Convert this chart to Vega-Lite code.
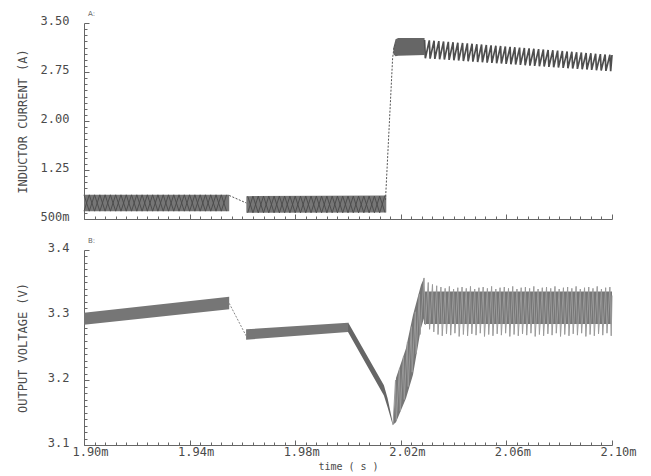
{
  "$schema": "https://vega.github.io/schema/vega-lite/v6.json",
  "background": "white",
  "padding": {"left": 16, "top": 10, "right": 5, "bottom": 2},
  "spacing": 15,
  "config": {
    "view": {"stroke": null},
    "axis": {"domainColor": "#666", "tickColor": "#666", "labelColor": "#4a4a4a", "titleColor": "#4a4a4a", "labelFont": "DejaVu Sans Mono", "titleFont": "DejaVu Sans Mono", "labelFontSize": 12, "titleFontSize": 12, "titleFontWeight": "normal", "grid": false, "labelFlush": false, "labelOverlap": false, "labelBound": false, "domainWidth": 1, "tickWidth": 1},
    "title": {"anchor": "start", "frame": "group", "fontSize": 7, "offset": -3, "dx": 4, "color": "#666", "font": "DejaVu Sans", "fontWeight": "normal"}
  },
  "datasets": {
    "iBand": [
      {"g": "g1", "t": 1.900, "v": 0.87, "v2": 0.62},
      {"g": "g1", "t": 1.955, "v": 0.87, "v2": 0.62},
      {"g": "g2", "t": 1.9615, "v": 0.85, "v2": 0.595},
      {"g": "g2", "t": 2.0145, "v": 0.86, "v2": 0.60},
      {"g": "g3", "t": 2.0172, "v": 3.12, "v2": 3.02},
      {"g": "g3", "t": 2.0180, "v": 3.25, "v2": 2.99},
      {"g": "g3", "t": 2.0190, "v": 3.27, "v2": 3.00},
      {"g": "g3", "t": 2.0290, "v": 3.27, "v2": 3.01}
    ],
    "iRip": [
      {"s": "a1", "t": 1.900, "v": 0.87}, {"s": "a1", "t": 1.902, "v": 0.62}, {"s": "a1", "t": 1.904, "v": 0.87}, {"s": "a1", "t": 1.906, "v": 0.62},
      {"s": "a1", "t": 1.908, "v": 0.87}, {"s": "a1", "t": 1.910, "v": 0.62}, {"s": "a1", "t": 1.912, "v": 0.87}, {"s": "a1", "t": 1.914, "v": 0.62},
      {"s": "a1", "t": 1.916, "v": 0.87}, {"s": "a1", "t": 1.918, "v": 0.62}, {"s": "a1", "t": 1.920, "v": 0.87}, {"s": "a1", "t": 1.922, "v": 0.62},
      {"s": "a1", "t": 1.924, "v": 0.87}, {"s": "a1", "t": 1.926, "v": 0.62}, {"s": "a1", "t": 1.928, "v": 0.87}, {"s": "a1", "t": 1.930, "v": 0.62},
      {"s": "a1", "t": 1.932, "v": 0.87}, {"s": "a1", "t": 1.934, "v": 0.62}, {"s": "a1", "t": 1.936, "v": 0.87}, {"s": "a1", "t": 1.938, "v": 0.62},
      {"s": "a1", "t": 1.940, "v": 0.87}, {"s": "a1", "t": 1.942, "v": 0.62}, {"s": "a1", "t": 1.944, "v": 0.87}, {"s": "a1", "t": 1.946, "v": 0.62},
      {"s": "a1", "t": 1.948, "v": 0.87}, {"s": "a1", "t": 1.950, "v": 0.62}, {"s": "a1", "t": 1.952, "v": 0.87}, {"s": "a1", "t": 1.954, "v": 0.62},
      {"s": "b1", "t": 1.900, "v": 0.62}, {"s": "b1", "t": 1.902, "v": 0.87}, {"s": "b1", "t": 1.904, "v": 0.62}, {"s": "b1", "t": 1.906, "v": 0.87},
      {"s": "b1", "t": 1.908, "v": 0.62}, {"s": "b1", "t": 1.910, "v": 0.87}, {"s": "b1", "t": 1.912, "v": 0.62}, {"s": "b1", "t": 1.914, "v": 0.87},
      {"s": "b1", "t": 1.916, "v": 0.62}, {"s": "b1", "t": 1.918, "v": 0.87}, {"s": "b1", "t": 1.920, "v": 0.62}, {"s": "b1", "t": 1.922, "v": 0.87},
      {"s": "b1", "t": 1.924, "v": 0.62}, {"s": "b1", "t": 1.926, "v": 0.87}, {"s": "b1", "t": 1.928, "v": 0.62}, {"s": "b1", "t": 1.930, "v": 0.87},
      {"s": "b1", "t": 1.932, "v": 0.62}, {"s": "b1", "t": 1.934, "v": 0.87}, {"s": "b1", "t": 1.936, "v": 0.62}, {"s": "b1", "t": 1.938, "v": 0.87},
      {"s": "b1", "t": 1.940, "v": 0.62}, {"s": "b1", "t": 1.942, "v": 0.87}, {"s": "b1", "t": 1.944, "v": 0.62}, {"s": "b1", "t": 1.946, "v": 0.87},
      {"s": "b1", "t": 1.948, "v": 0.62}, {"s": "b1", "t": 1.950, "v": 0.87}, {"s": "b1", "t": 1.952, "v": 0.62}, {"s": "b1", "t": 1.954, "v": 0.87},
      {"s": "a2", "t": 1.962, "v": 0.85}, {"s": "a2", "t": 1.964, "v": 0.595}, {"s": "a2", "t": 1.966, "v": 0.85}, {"s": "a2", "t": 1.968, "v": 0.595},
      {"s": "a2", "t": 1.970, "v": 0.85}, {"s": "a2", "t": 1.972, "v": 0.595}, {"s": "a2", "t": 1.974, "v": 0.85}, {"s": "a2", "t": 1.976, "v": 0.595},
      {"s": "a2", "t": 1.978, "v": 0.85}, {"s": "a2", "t": 1.980, "v": 0.595}, {"s": "a2", "t": 1.982, "v": 0.85}, {"s": "a2", "t": 1.984, "v": 0.595},
      {"s": "a2", "t": 1.986, "v": 0.85}, {"s": "a2", "t": 1.988, "v": 0.595}, {"s": "a2", "t": 1.990, "v": 0.85}, {"s": "a2", "t": 1.992, "v": 0.595},
      {"s": "a2", "t": 1.994, "v": 0.85}, {"s": "a2", "t": 1.996, "v": 0.595}, {"s": "a2", "t": 1.998, "v": 0.85}, {"s": "a2", "t": 2.000, "v": 0.595},
      {"s": "a2", "t": 2.002, "v": 0.85}, {"s": "a2", "t": 2.004, "v": 0.595}, {"s": "a2", "t": 2.006, "v": 0.85}, {"s": "a2", "t": 2.008, "v": 0.595},
      {"s": "a2", "t": 2.010, "v": 0.85}, {"s": "a2", "t": 2.012, "v": 0.595}, {"s": "a2", "t": 2.014, "v": 0.86},
      {"s": "b2", "t": 1.962, "v": 0.595}, {"s": "b2", "t": 1.964, "v": 0.85}, {"s": "b2", "t": 1.966, "v": 0.595}, {"s": "b2", "t": 1.968, "v": 0.85},
      {"s": "b2", "t": 1.970, "v": 0.595}, {"s": "b2", "t": 1.972, "v": 0.85}, {"s": "b2", "t": 1.974, "v": 0.595}, {"s": "b2", "t": 1.976, "v": 0.85},
      {"s": "b2", "t": 1.978, "v": 0.595}, {"s": "b2", "t": 1.980, "v": 0.85}, {"s": "b2", "t": 1.982, "v": 0.595}, {"s": "b2", "t": 1.984, "v": 0.85},
      {"s": "b2", "t": 1.986, "v": 0.595}, {"s": "b2", "t": 1.988, "v": 0.85}, {"s": "b2", "t": 1.990, "v": 0.595}, {"s": "b2", "t": 1.992, "v": 0.85},
      {"s": "b2", "t": 1.994, "v": 0.595}, {"s": "b2", "t": 1.996, "v": 0.85}, {"s": "b2", "t": 1.998, "v": 0.595}, {"s": "b2", "t": 2.000, "v": 0.85},
      {"s": "b2", "t": 2.002, "v": 0.595}, {"s": "b2", "t": 2.004, "v": 0.85}, {"s": "b2", "t": 2.006, "v": 0.595}, {"s": "b2", "t": 2.008, "v": 0.85},
      {"s": "b2", "t": 2.010, "v": 0.595}, {"s": "b2", "t": 2.012, "v": 0.85}, {"s": "b2", "t": 2.014, "v": 0.60}
    ],
    "iDash": [
      {"s": "d1", "t": 1.955, "v": 0.86}, {"s": "d1", "t": 1.9615, "v": 0.745},
      {"s": "d2", "t": 2.0142, "v": 0.79}, {"s": "d2", "t": 2.0169, "v": 2.96}, {"s": "d2", "t": 2.0174, "v": 3.12}, {"s": "d2", "t": 2.0181, "v": 3.20}
    ],
    "iSaw": [
      {"t": 2.0290, "v": 3.240}, {"t": 2.0293, "v": 2.960}, {"t": 2.0308, "v": 3.234}, {"t": 2.0311, "v": 2.955},
      {"t": 2.0326, "v": 3.228}, {"t": 2.0329, "v": 2.950}, {"t": 2.0344, "v": 3.223}, {"t": 2.0347, "v": 2.945},
      {"t": 2.0362, "v": 3.217}, {"t": 2.0365, "v": 2.940}, {"t": 2.0380, "v": 3.211}, {"t": 2.0383, "v": 2.935},
      {"t": 2.0398, "v": 3.205}, {"t": 2.0401, "v": 2.930}, {"t": 2.0416, "v": 3.199}, {"t": 2.0419, "v": 2.925},
      {"t": 2.0434, "v": 3.193}, {"t": 2.0437, "v": 2.919}, {"t": 2.0452, "v": 3.188}, {"t": 2.0455, "v": 2.914},
      {"t": 2.0470, "v": 3.182}, {"t": 2.0473, "v": 2.909}, {"t": 2.0488, "v": 3.176}, {"t": 2.0491, "v": 2.904},
      {"t": 2.0506, "v": 3.170}, {"t": 2.0509, "v": 2.899}, {"t": 2.0524, "v": 3.164}, {"t": 2.0527, "v": 2.894},
      {"t": 2.0542, "v": 3.158}, {"t": 2.0545, "v": 2.889}, {"t": 2.0560, "v": 3.153}, {"t": 2.0563, "v": 2.884},
      {"t": 2.0578, "v": 3.147}, {"t": 2.0581, "v": 2.879}, {"t": 2.0596, "v": 3.141}, {"t": 2.0599, "v": 2.874},
      {"t": 2.0614, "v": 3.135}, {"t": 2.0617, "v": 2.869}, {"t": 2.0632, "v": 3.129}, {"t": 2.0635, "v": 2.864},
      {"t": 2.0650, "v": 3.123}, {"t": 2.0653, "v": 2.859}, {"t": 2.0668, "v": 3.118}, {"t": 2.0671, "v": 2.854},
      {"t": 2.0686, "v": 3.112}, {"t": 2.0689, "v": 2.848}, {"t": 2.0704, "v": 3.106}, {"t": 2.0707, "v": 2.843},
      {"t": 2.0722, "v": 3.100}, {"t": 2.0725, "v": 2.838}, {"t": 2.0740, "v": 3.094}, {"t": 2.0743, "v": 2.833},
      {"t": 2.0758, "v": 3.088}, {"t": 2.0761, "v": 2.828}, {"t": 2.0776, "v": 3.083}, {"t": 2.0779, "v": 2.823},
      {"t": 2.0794, "v": 3.077}, {"t": 2.0797, "v": 2.818}, {"t": 2.0812, "v": 3.071}, {"t": 2.0815, "v": 2.813},
      {"t": 2.0830, "v": 3.065}, {"t": 2.0833, "v": 2.808}, {"t": 2.0848, "v": 3.059}, {"t": 2.0851, "v": 2.803},
      {"t": 2.0866, "v": 3.053}, {"t": 2.0869, "v": 2.798}, {"t": 2.0884, "v": 3.048}, {"t": 2.0887, "v": 2.793},
      {"t": 2.0902, "v": 3.042}, {"t": 2.0905, "v": 2.788}, {"t": 2.0920, "v": 3.036}, {"t": 2.0923, "v": 2.782},
      {"t": 2.0938, "v": 3.030}, {"t": 2.0941, "v": 2.777}, {"t": 2.0956, "v": 3.024}, {"t": 2.0959, "v": 2.772},
      {"t": 2.0974, "v": 3.018}, {"t": 2.0977, "v": 2.767}, {"t": 2.0992, "v": 3.013}, {"t": 2.0995, "v": 2.762},
      {"t": 2.1000, "v": 3.010}
    ],
    "vBand": [
      {"g": "h1", "t": 1.900, "v": 3.3036, "v2": 3.285},
      {"g": "h1", "t": 1.955, "v": 3.328, "v2": 3.309},
      {"g": "h2", "t": 1.9614, "v": 3.278, "v2": 3.262},
      {"g": "h2", "t": 2.000, "v": 3.288, "v2": 3.274},
      {"g": "h3", "t": 2.000, "v": 3.289, "v2": 3.274},
      {"g": "h3", "t": 2.0136, "v": 3.192, "v2": 3.176},
      {"g": "h3", "t": 2.0150, "v": 3.172, "v2": 3.158},
      {"g": "h3", "t": 2.0170, "v": 3.133, "v2": 3.130},
      {"g": "h4", "t": 2.01705, "v": 3.131, "v2": 3.131},
      {"g": "h4", "t": 2.01818, "v": 3.203, "v2": 3.135},
      {"g": "h4", "t": 2.02197, "v": 3.249, "v2": 3.172},
      {"g": "h4", "t": 2.02462, "v": 3.300, "v2": 3.208},
      {"g": "h4", "t": 2.02765, "v": 3.346, "v2": 3.280},
      {"g": "h4", "t": 2.02879, "v": 3.357, "v2": 3.295},
      {"g": "h5", "t": 2.0288, "v": 3.336, "v2": 3.286},
      {"g": "h5", "t": 2.1000, "v": 3.336, "v2": 3.286}
    ],
    "vDash": [
      {"t": 1.955, "v": 3.318}, {"t": 1.9614, "v": 3.268}
    ],
    "vSaw": [
      {"t": 2.01705, "v": 3.131}, {"t": 2.0180, "v": 3.200}, {"t": 2.0183, "v": 3.138}, {"t": 2.0195, "v": 3.218},
      {"t": 2.0198, "v": 3.152}, {"t": 2.0210, "v": 3.236}, {"t": 2.0213, "v": 3.170}, {"t": 2.0225, "v": 3.258},
      {"t": 2.0228, "v": 3.190}, {"t": 2.0240, "v": 3.282}, {"t": 2.0243, "v": 3.212}, {"t": 2.0255, "v": 3.305},
      {"t": 2.0258, "v": 3.240}, {"t": 2.0270, "v": 3.332}, {"t": 2.0273, "v": 3.270},
      {"t": 2.0288, "v": 3.357}, {"t": 2.0293, "v": 3.285}, {"t": 2.0304, "v": 3.350}, {"t": 2.0309, "v": 3.278},
      {"t": 2.0320, "v": 3.347}, {"t": 2.0325, "v": 3.274}, {"t": 2.0336, "v": 3.345}, {"t": 2.0341, "v": 3.270},
      {"t": 2.0352, "v": 3.343}, {"t": 2.0357, "v": 3.268}, {"t": 2.0368, "v": 3.341}, {"t": 2.0373, "v": 3.271},
      {"t": 2.0384, "v": 3.344}, {"t": 2.0389, "v": 3.269}, {"t": 2.0400, "v": 3.340}, {"t": 2.0405, "v": 3.272},
      {"t": 2.0416, "v": 3.342}, {"t": 2.0421, "v": 3.267}, {"t": 2.0432, "v": 3.343}, {"t": 2.0437, "v": 3.270},
      {"t": 2.0448, "v": 3.341}, {"t": 2.0453, "v": 3.268}, {"t": 2.0464, "v": 3.344}, {"t": 2.0469, "v": 3.271},
      {"t": 2.0480, "v": 3.340}, {"t": 2.0485, "v": 3.269}, {"t": 2.0496, "v": 3.342}, {"t": 2.0501, "v": 3.272},
      {"t": 2.0512, "v": 3.343}, {"t": 2.0517, "v": 3.267}, {"t": 2.0528, "v": 3.341}, {"t": 2.0533, "v": 3.270},
      {"t": 2.0544, "v": 3.344}, {"t": 2.0549, "v": 3.268}, {"t": 2.0560, "v": 3.340}, {"t": 2.0565, "v": 3.271},
      {"t": 2.0576, "v": 3.342}, {"t": 2.0581, "v": 3.269}, {"t": 2.0592, "v": 3.343}, {"t": 2.0597, "v": 3.272},
      {"t": 2.0608, "v": 3.341}, {"t": 2.0613, "v": 3.267}, {"t": 2.0624, "v": 3.344}, {"t": 2.0629, "v": 3.270},
      {"t": 2.0640, "v": 3.340}, {"t": 2.0645, "v": 3.268}, {"t": 2.0656, "v": 3.342}, {"t": 2.0661, "v": 3.271},
      {"t": 2.0672, "v": 3.343}, {"t": 2.0677, "v": 3.269}, {"t": 2.0688, "v": 3.341}, {"t": 2.0693, "v": 3.272},
      {"t": 2.0704, "v": 3.344}, {"t": 2.0709, "v": 3.267}, {"t": 2.0720, "v": 3.340}, {"t": 2.0725, "v": 3.270},
      {"t": 2.0736, "v": 3.342}, {"t": 2.0741, "v": 3.268}, {"t": 2.0752, "v": 3.343}, {"t": 2.0757, "v": 3.271},
      {"t": 2.0768, "v": 3.341}, {"t": 2.0773, "v": 3.269}, {"t": 2.0784, "v": 3.344}, {"t": 2.0789, "v": 3.272},
      {"t": 2.0800, "v": 3.340}, {"t": 2.0805, "v": 3.267}, {"t": 2.0816, "v": 3.342}, {"t": 2.0821, "v": 3.270},
      {"t": 2.0832, "v": 3.343}, {"t": 2.0837, "v": 3.268}, {"t": 2.0848, "v": 3.341}, {"t": 2.0853, "v": 3.271},
      {"t": 2.0864, "v": 3.344}, {"t": 2.0869, "v": 3.269}, {"t": 2.0880, "v": 3.340}, {"t": 2.0885, "v": 3.272},
      {"t": 2.0896, "v": 3.342}, {"t": 2.0901, "v": 3.267}, {"t": 2.0912, "v": 3.343}, {"t": 2.0917, "v": 3.270},
      {"t": 2.0928, "v": 3.341}, {"t": 2.0933, "v": 3.268}, {"t": 2.0944, "v": 3.344}, {"t": 2.0949, "v": 3.271},
      {"t": 2.0960, "v": 3.340}, {"t": 2.0965, "v": 3.269}, {"t": 2.0976, "v": 3.342}, {"t": 2.0981, "v": 3.272},
      {"t": 2.0992, "v": 3.343}, {"t": 2.0997, "v": 3.268}, {"t": 2.1000, "v": 3.330}
    ]
  },
  "vconcat": [
    {
      "width": 528,
      "height": 196,
      "title": {"text": "A:"},
      "encoding": {
        "x": {"field": "t", "type": "quantitative",
          "scale": {"domain": [1.9, 2.1], "nice": false, "zero": false},
          "axis": {"title": null, "labels": false,
            "values": [1.9, 1.904, 1.908, 1.912, 1.916, 1.92, 1.924, 1.928, 1.932, 1.936, 1.94, 1.944, 1.948, 1.952, 1.956, 1.96, 1.964, 1.968, 1.972, 1.976, 1.98, 1.984, 1.988, 1.992, 1.996, 2.0, 2.004, 2.008, 2.012, 2.016, 2.02, 2.024, 2.028, 2.032, 2.036, 2.04, 2.044, 2.048, 2.052, 2.056, 2.06, 2.064, 2.068, 2.072, 2.076, 2.08, 2.084, 2.088, 2.092, 2.096, 2.1],
            "tickSize": {"condition": {"test": "abs((datum.value-1.9)*25-round((datum.value-1.9)*25))<0.001", "value": -5}, "value": -3}}},
        "y": {"field": "v", "type": "quantitative",
          "scale": {"domain": [0.5, 3.5], "nice": false, "zero": false},
          "axis": {"title": "INDUCTOR CURRENT (A)",
            "values": [0.5, 0.59375, 0.6875, 0.78125, 0.875, 0.96875, 1.0625, 1.15625, 1.25, 1.34375, 1.4375, 1.53125, 1.625, 1.71875, 1.8125, 1.90625, 2.0, 2.09375, 2.1875, 2.28125, 2.375, 2.46875, 2.5625, 2.65625, 2.75, 2.84375, 2.9375, 3.03125, 3.125, 3.21875, 3.3125, 3.40625, 3.5],
            "labelExpr": "datum.value==0.5 ? '500m' : (abs((datum.value-0.5)/0.75-round((datum.value-0.5)/0.75))<0.001 ? format(datum.value,'.2f') : '')",
            "tickSize": {"condition": {"test": "abs((datum.value-0.5)/0.75-round((datum.value-0.5)/0.75))<0.001", "value": -5}, "value": -3},
            "labelPadding": 20, "labelOffset": -3, "minExtent": 43, "maxExtent": 43, "titlePadding": 12}}
      },
      "layer": [
        {"data": {"name": "iBand"}, "mark": {"type": "area", "opacity": 1},
         "encoding": {"y2": {"field": "v2"}, "color": {"field": "g", "type": "nominal", "legend": null, "scale": {"domain": ["g1", "g2", "g3"], "range": ["#767676", "#767676", "#666666"]}}}},
        {"data": {"name": "iRip"}, "mark": {"type": "line", "stroke": "#4a4a4a", "strokeWidth": 0.9},
         "encoding": {"detail": {"field": "s"}}},
        {"data": {"name": "iDash"}, "mark": {"type": "line", "stroke": "#555", "strokeWidth": 1, "strokeDash": [2, 1.5]},
         "encoding": {"detail": {"field": "s"}}},
        {"data": {"name": "iSaw"}, "mark": {"type": "line", "stroke": "#4e4e4e", "strokeWidth": 1.7},
         "encoding": {}}
      ]
    },
    {
      "width": 528,
      "height": 195,
      "title": {"text": "B:"},
      "encoding": {
        "x": {"field": "t", "type": "quantitative",
          "scale": {"domain": [1.9, 2.1], "nice": false, "zero": false},
          "axis": {"title": "time ( s )", "titleFontSize": 10, "titlePadding": 2,
            "values": [1.9, 1.904, 1.908, 1.912, 1.916, 1.92, 1.924, 1.928, 1.932, 1.936, 1.94, 1.944, 1.948, 1.952, 1.956, 1.96, 1.964, 1.968, 1.972, 1.976, 1.98, 1.984, 1.988, 1.992, 1.996, 2.0, 2.004, 2.008, 2.012, 2.016, 2.02, 2.024, 2.028, 2.032, 2.036, 2.04, 2.044, 2.048, 2.052, 2.056, 2.06, 2.064, 2.068, 2.072, 2.076, 2.08, 2.084, 2.088, 2.092, 2.096, 2.1],
            "labelExpr": "abs((datum.value-1.9)*25-round((datum.value-1.9)*25))<0.001 ? format(datum.value,'.2f')+'m' : ''",
            "labelPadding": 6, "labelOffset": 6,
            "tickSize": {"condition": {"test": "abs((datum.value-1.9)*25-round((datum.value-1.9)*25))<0.001", "value": -5}, "value": -3}}},
        "y": {"field": "v", "type": "quantitative",
          "scale": {"domain": [3.1, 3.4], "nice": false, "zero": false},
          "axis": {"title": "OUTPUT VOLTAGE (V)",
            "values": [3.1, 3.11, 3.12, 3.13, 3.14, 3.15, 3.16, 3.17, 3.18, 3.19, 3.2, 3.21, 3.22, 3.23, 3.24, 3.25, 3.26, 3.27, 3.28, 3.29, 3.3, 3.31, 3.32, 3.33, 3.34, 3.35, 3.36, 3.37, 3.38, 3.39, 3.4],
            "labelExpr": "abs(datum.value*10-round(datum.value*10))<0.001 ? format(datum.value,'.1f') : ''",
            "tickSize": {"condition": {"test": "abs(datum.value*10-round(datum.value*10))<0.001", "value": -5}, "value": -3},
            "labelPadding": 20, "labelOffset": -3, "minExtent": 43, "maxExtent": 43, "titlePadding": 12}}
      },
      "layer": [
        {"data": {"name": "vBand"}, "mark": {"type": "area", "opacity": 1},
         "encoding": {"y2": {"field": "v2"}, "color": {"field": "g", "type": "nominal", "legend": null, "scale": {"domain": ["h1", "h2", "h3", "h4", "h5"], "range": ["#9e9e9e", "#9e9e9e", "#aaaaaa", "#c0c0c0", "#ececec"]}}}},
        {"data": {"name": "vDash"}, "mark": {"type": "line", "stroke": "#888", "strokeWidth": 1, "strokeDash": [2, 1.5]},
         "encoding": {}},
        {"data": {"name": "vSaw"}, "mark": {"type": "line", "stroke": "#9a9a9a", "strokeWidth": 1},
         "encoding": {}}
      ]
    }
  ]
}
